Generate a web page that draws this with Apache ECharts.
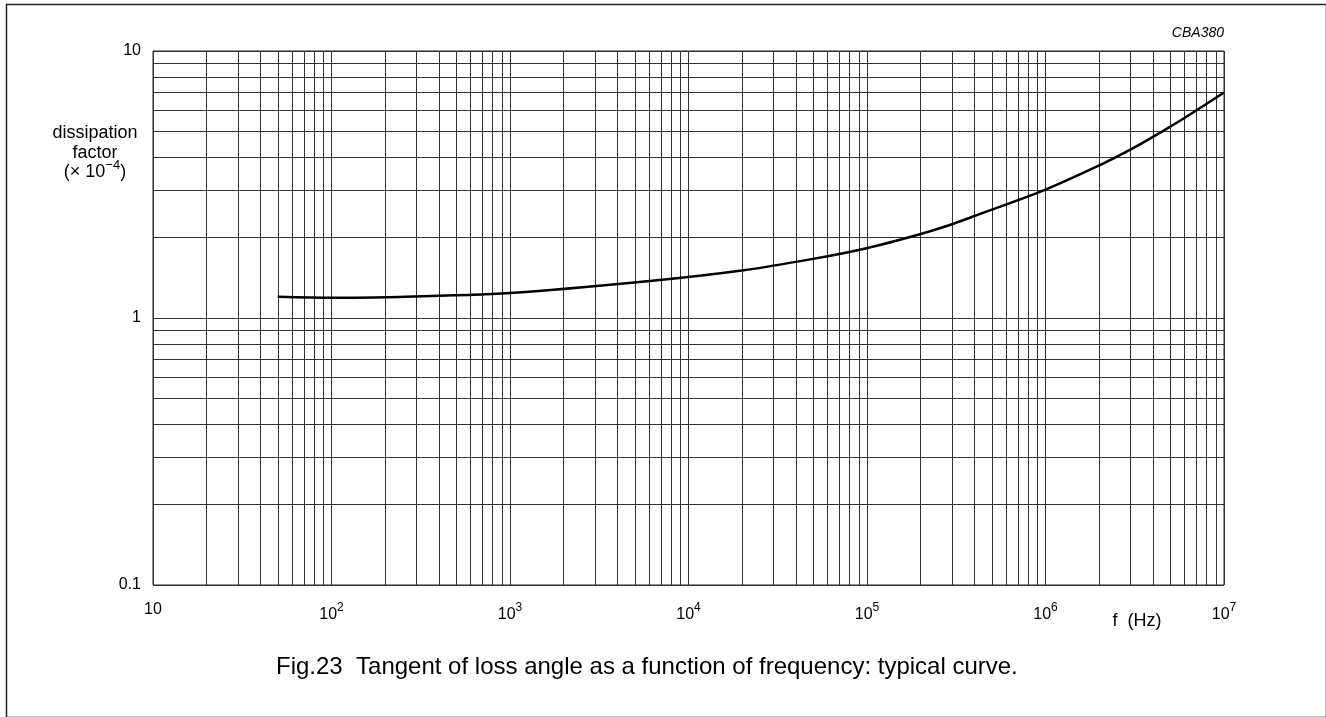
<!DOCTYPE html>
<html>
<head>
<meta charset="utf-8">
<script src="https://cdn.jsdelivr.net/npm/echarts@6/dist/echarts.min.js"></script>
<style>
html,body{margin:0;padding:0;background:#fff;}
#chart{width:1326px;height:717px;}
</style>
</head>
<body>
<div id="chart"></div>
<script>
// Data
const freqHz = [50, 100, 200, 1000, 6070, 19860, 49800, 99500, 198000, 291000, 393000, 993000, 2020000, 2970000, 4980000, 7030000, 10000000];
const dissipation = [1.20, 1.19, 1.195, 1.24, 1.375, 1.505, 1.665, 1.826, 2.06, 2.23, 2.40, 3.02, 3.74, 4.26, 5.20, 6.00, 6.99];

// Tick labels
const xTickLabels = ['10', '10{sup|2}', '10{sup|3}', '10{sup|4}', '10{sup|5}', '10{sup|6}', '10{sup|7}'];
const yTickLabels = ['0.1', '1', '10'];

// Grid line positions (1..9 per decade)
const xGridValues = [];
for (let e = 1; e < 7; e++) for (let m = 1; m <= 9; m++) xGridValues.push(m * Math.pow(10, e));
xGridValues.push(1e7);
const yGridValues = [];
for (let e = -1; e < 1; e++) for (let m = 1; m <= 9; m++) yGridValues.push(+(m * Math.pow(10, e)).toFixed(6));
yGridValues.push(10);

const FONT = '"Liberation Sans", Arial, sans-serif';
const chart = echarts.init(document.getElementById('chart'));
const gridLineStyle = {color: '#333', width: 1, type: 'solid'};

chart.setOption({
  animation: false,
  backgroundColor: '#fff',
  grid: {left: 153, top: 51, width: 1071, height: 534, show: true, borderColor: '#222', borderWidth: 1},
  xAxis: {
    type: 'log', logBase: 10, min: 10, max: 1e7, interval: 1,
    axisLine: {show: false}, axisTick: {show: false}, splitLine: {show: false}, minorTick: {show: false},
    axisLabel: {
      margin: 17, color: '#000', fontFamily: FONT, fontSize: 16,
      formatter: function (v) { const e = Math.round(Math.log10(v)); return xTickLabels[e - 1] || ''; },
      rich: {
        sup: {fontSize: 12, fontFamily: FONT, color: '#000', verticalAlign: 'top', lineHeight: 26},
      }
    }
  },
  yAxis: {
    type: 'log', logBase: 10, min: 0.1, max: 10, interval: 1,
    axisLine: {show: false}, axisTick: {show: false}, splitLine: {show: false}, minorTick: {show: false},
    axisLabel: {
      margin: 12, color: '#000', fontFamily: FONT, fontSize: 16,
      formatter: function (v) { const e = Math.round(Math.log10(v)); return yTickLabels[e + 1] || ''; }
    }
  },
  series: [
    {
      type: 'line', data: [], silent: true, z: 1,
      markLine: {
        silent: true, symbol: 'none', animation: false,
        label: {show: false},
        lineStyle: gridLineStyle,
        data: xGridValues.map(v => ({xAxis: v})).concat(yGridValues.map(v => ({yAxis: v})))
      }
    },
    {
      type: 'line', z: 5, smooth: 0.3, showSymbol: false, silent: true,
      lineStyle: {color: '#000', width: 2.5},
      data: freqHz.map((f, i) => [f, dissipation[i]])
    }
  ],
  graphic: [
    {type: 'rect', left: 4, top: 2, shape: {width: 1320, height: 713}, style: {fill: 'none', stroke: '#222', lineWidth: 1.5}, silent: true},
    {type: 'text', x: 95, y: 133, style: {text: 'dissipation', font: '18px ' + FONT, fill: '#000', align: 'center', verticalAlign: 'middle'}},
    {type: 'text', x: 95, y: 153, style: {text: 'factor', font: '18px ' + FONT, fill: '#000', align: 'center', verticalAlign: 'middle'}},
    {type: 'text', x: 95, y: 172, style: {
      text: '(× 10{sup|−4})', font: '18px ' + FONT, fill: '#000', align: 'center', verticalAlign: 'middle',
      rich: {sup: {fontSize: 13, fontFamily: FONT, fill: '#000', verticalAlign: 'top', lineHeight: 26}}
    }},
    {type: 'text', x: 1224, y: 33, style: {text: 'CBA380', font: 'italic 14px ' + FONT, fill: '#000', align: 'right', verticalAlign: 'middle'}},
    {type: 'text', x: 1137, y: 621, style: {text: 'f  (Hz)', font: '18px ' + FONT, fill: '#000', align: 'center', verticalAlign: 'middle'}},
    {type: 'text', x: 276, y: 667, style: {text: 'Fig.23  Tangent of loss angle as a function of frequency: typical curve.', font: '24px ' + FONT, fill: '#000', align: 'left', verticalAlign: 'middle'}}
  ]
});
</script>
</body>
</html>
